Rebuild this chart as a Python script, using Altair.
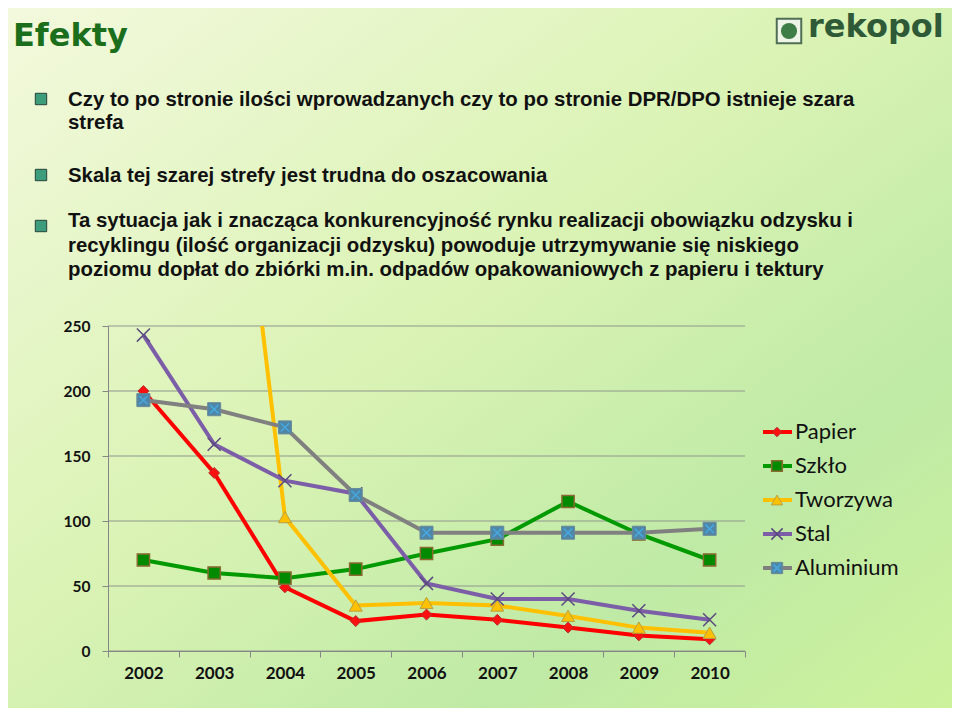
import altair as alt
import pandas as pd

# ---------------- data ----------------
years = ["2002", "2003", "2004", "2005", "2006", "2007", "2008", "2009", "2010"]
series_names = ["Papier", "Szkło", "Tworzywa", "Stal", "Aluminium"]
papier = [200, 137, 49, 23, 28, 24, 18, 12, 9]
szklo = [70, 60, 56, 63, 75, 86, 115, 90, 70]
tworzywa = [None, 560, 103, 35, 37, 35, 27, 18, 14]
stal = [243, 159, 131, 121, 52, 40, 40, 31, 24]
aluminium = [193, 186, 172, 120, 91, 91, 91, 91, 94]
y_ticks = [0, 50, 100, 150, 200, 250]

title_text = "Efekty"
bullet_lines = [
    "Czy to po stronie ilości wprowadzanych czy to po stronie DPR/DPO istnieje szara",
    "strefa",
    "Skala tej szarej strefy jest trudna do oszacowania",
    "Ta sytuacja jak i znacząca konkurencyjność rynku realizacji obowiązku odzysku i",
    "recyklingu (ilość organizacji odzysku) powoduje utrzymywanie się niskiego",
    "poziomu dopłat do zbiórki m.in. odpadów opakowaniowych z papieru i tektury",
]
logo_text = "rekopol"

# ---------------- styles ----------------
W, H = 637, 325
PL, PT = 100, 318            # plot origin at page (108, 326)
OX, OY = 108, 326

line_colors = {"Papier": "#ff0000", "Szkło": "#009a00", "Tworzywa": "#ffc000",
               "Stal": "#7b5ea7", "Aluminium": "#808080"}

values_map = {"Papier": papier, "Szkło": szklo, "Tworzywa": tworzywa,
              "Stal": stal, "Aluminium": aluminium}
rows = []
for s in series_names:
    for y, v in zip(years, values_map[s]):
        if v is not None:
            rows.append({"year": y, "series": s, "value": v})
df = pd.DataFrame(rows)

X_PATH = "M-1,-1L1,1M-1,1L1,-1"
marker_styles = {
    "Papier": [dict(shape="diamond", size=120, filled=True, fill="#ff1010", stroke="#b03030", strokeWidth=1)],
    "Szkło": [dict(shape="square", size=150, filled=True, fill="#008a00", stroke="#8a6a30", strokeWidth=1.5)],
    "Tworzywa": [dict(shape="triangle-up", size=170, filled=True, fill="#ffc000", stroke="#b8a040", strokeWidth=1)],
    "Stal": [dict(shape=X_PATH, size=170, filled=False, stroke="#5a4a80", strokeWidth=1.5)],
    "Aluminium": [dict(shape="square", size=170, filled=True, fill="#4f86a6", stroke="#6a8a9a", strokeWidth=1),
                  dict(shape=X_PATH, size=70, filled=False, stroke="#46a8e0", strokeWidth=1.5)],
}

x_scale = alt.Scale(type="band", domain=years, paddingInner=0, paddingOuter=0)
y_scale = alt.Scale(domain=[0, 250], nice=False, zero=True)
x_enc = alt.X("year:O", scale=x_scale,
              axis=alt.Axis(title=None, labelAngle=0, tickBand="extent", grid=False, zindex=1,
                            domainColor="#868686", tickColor="#868686", tickSize=6,
                            labelFont="Lato", labelFontSize=17, labelFontWeight="bold",
                            labelColor="#111111", labelPadding=8))
y_enc = alt.Y("value:Q", scale=y_scale,
              axis=alt.Axis(title=None, values=y_ticks, grid=False, zindex=1,
                            domainColor="#868686", tickColor="#868686", tickSize=6,
                            labelFont="Lato", labelFontSize=15.5, labelFontWeight="bold",
                            labelColor="#111111", labelPadding=12))

# horizontal gridlines (drawn behind the series)
grid = alt.Chart(pd.DataFrame({"value": y_ticks})).mark_rule(color="#8e978e", strokeWidth=1).encode(y=y_enc)

base = alt.Chart(df)
main_layers = [grid]
for s in series_names:
    sub = base.transform_filter(alt.datum.series == s)
    main_layers.append(sub.mark_line(color=line_colors[s], strokeWidth=4, clip=True).encode(x=x_enc, y=y_enc))
    for ms in marker_styles[s]:
        main_layers.append(sub.mark_point(clip=True, opacity=1, **ms).encode(x=x_enc, y=y_enc))
main = alt.layer(*main_layers)

# ---------------- legend ----------------
leg_df = pd.DataFrame({"series": series_names})
leg_y = alt.Y("series:N", scale=alt.Scale(type="point", domain=series_names, range=[106, 242], padding=0),
              axis=None)
leg_base = alt.Chart(leg_df)
leg_layers = []
for s in series_names:
    sub = leg_base.transform_filter(alt.datum.series == s)
    leg_layers.append(sub.mark_rule(color=line_colors[s], strokeWidth=4).encode(
        x=alt.value(763 - OX), x2=alt.value(792 - OX), y=leg_y))
    for ms in marker_styles[s]:
        ms2 = dict(ms)
        ms2["size"] = ms["size"] * 0.75
        leg_layers.append(sub.mark_point(opacity=1, **ms2).encode(x=alt.value(777 - OX), y=leg_y))
leg_layers.append(leg_base.mark_text(align="left", baseline="middle", font="Lato", fontSize=22,
                                     color="#111111").encode(
    x=alt.value(795 - OX), y=leg_y, text="series:N"))
legend = alt.layer(*leg_layers)

# ---------------- slide decorations ----------------
one = pd.DataFrame({"k": [0]})
bg = alt.Chart(one).mark_rect(
    color=alt.Gradient(gradient="linear", x1=0, y1=0, x2=1, y2=1,
                       stops=[alt.GradientStop(offset=0, color="#f3f9dd"),
                              alt.GradientStop(offset=0.45, color="#daf3b4"),
                              alt.GradientStop(offset=0.75, color="#bfeaa6"),
                              alt.GradientStop(offset=1, color="#cdf29c")])
).encode(x=alt.value(-PL), x2=alt.value(W + 207), y=alt.value(-PT), y2=alt.value(H + 57))

title = alt.Chart(pd.DataFrame({"t": [title_text]})).mark_text(
    align="left", baseline="alphabetic", font="DejaVu Sans", fontWeight="bold", fontSize=32,
    color="#1b6e1b").encode(x=alt.value(13 - OX), y=alt.value(46 - OY), text="t:N")

bullet_baselines = [106, 129, 182, 227, 252, 276]
text_layers = []
for line, yb in zip(bullet_lines, bullet_baselines):
    text_layers.append(alt.Chart(pd.DataFrame({"t": [line]})).mark_text(
        align="left", baseline="alphabetic", font="Liberation Sans", fontWeight="bold",
        fontSize=20.4, color="#111111").encode(x=alt.value(68 - OX), y=alt.value(yb - OY), text="t:N"))

bullet_marks = []
for yc in [99, 175, 226]:
    bullet_marks.append(alt.Chart(one).mark_square(size=130, color="#3d9c7a", stroke="#24433a",
                                                   strokeWidth=1, opacity=1).encode(
        x=alt.value(41 - OX), y=alt.value(yc - OY)))

logo_icon = [
    alt.Chart(one).mark_square(size=600, filled=True, fill="#eef5e6", stroke="#4f6e55",
                               strokeWidth=2, opacity=1).encode(x=alt.value(789 - OX), y=alt.value(31 - OY)),
    alt.Chart(one).mark_circle(size=260, color="#3e7d46", opacity=1).encode(
        x=alt.value(789 - OX), y=alt.value(31 - OY)),
]
logo = alt.Chart(pd.DataFrame({"t": [logo_text]})).mark_text(
    align="left", baseline="alphabetic", font="DejaVu Sans", fontWeight="bold", fontSize=32,
    color="#2f5a37").encode(x=alt.value(808 - OX), y=alt.value(37 - OY), text="t:N")

chart = alt.layer(bg, title, *text_layers, *bullet_marks, *logo_icon, logo, main, legend).resolve_scale(
    y="independent"
).properties(
    width=W, height=H,
    autosize=alt.AutoSizeParams(type="none"),
    padding={"left": PL, "top": PT, "right": 207, "bottom": 57},
).configure(background="#eaf6cc").configure_view(stroke=None)

chart.save("out.html", embed_options={"renderer": "svg", "actions": False})
